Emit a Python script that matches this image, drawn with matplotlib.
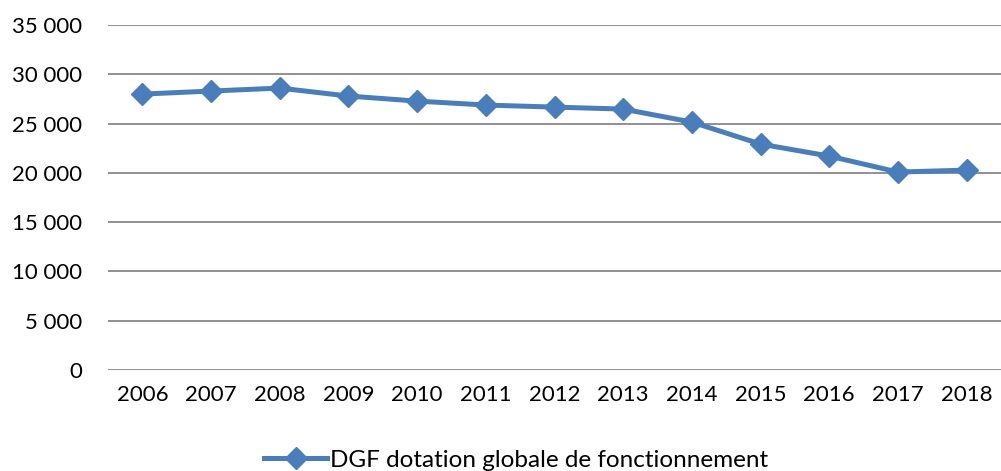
import matplotlib
matplotlib.use('Agg')
import matplotlib.pyplot as plt
from matplotlib.ticker import FuncFormatter

annees = ['2006', '2007', '2008', '2009', '2010', '2011', '2012',
          '2013', '2014', '2015', '2016', '2017', '2018']
dgf = [27990, 28300, 28600, 27790, 27280, 26880, 26670,
       26470, 25150, 22920, 21700, 20080, 20280]
yticks = [0, 5000, 10000, 15000, 20000, 25000, 30000, 35000]
serie = 'DGF dotation globale de fonctionnement'

plt.rcParams['font.family'] = ['Lato', 'DejaVu Sans']

fig = plt.figure(figsize=(10.01, 4.71), dpi=100)
ax = fig.add_axes([108 / 1001, 1 - 370 / 471, 1 - 108 / 1001, 345 / 471])

x = list(range(len(annees)))
ax.plot(x, dgf, color='#4a7ebb', linewidth=3.6, marker='D', markersize=11.5,
        label=serie, zorder=3)

ax.set_xlim(-0.5, len(annees) - 0.5)
ax.set_ylim(0, 35000)
ax.set_yticks(yticks)
ax.yaxis.set_major_formatter(FuncFormatter(lambda v, p: f'{int(v):,}'.replace(',', ' ')))
ax.set_xticks(x)
ax.set_xticklabels(annees)
ax.grid(axis='y', color='#888888', linewidth=1.3)
ax.set_axisbelow(True)
for s in ax.spines.values():
    s.set_visible(False)
ax.tick_params(axis='both', length=0, labelsize=16, colors='black')
ax.tick_params(axis='y', pad=18.5)
ax.tick_params(axis='x', pad=11)

fig.legend(loc='center', bbox_to_anchor=(516 / 1001, 1 - 460 / 471), frameon=False,
           fontsize=17.5, handlelength=2.6, handletextpad=0.1)

fig.savefig('out.png', dpi=100)
